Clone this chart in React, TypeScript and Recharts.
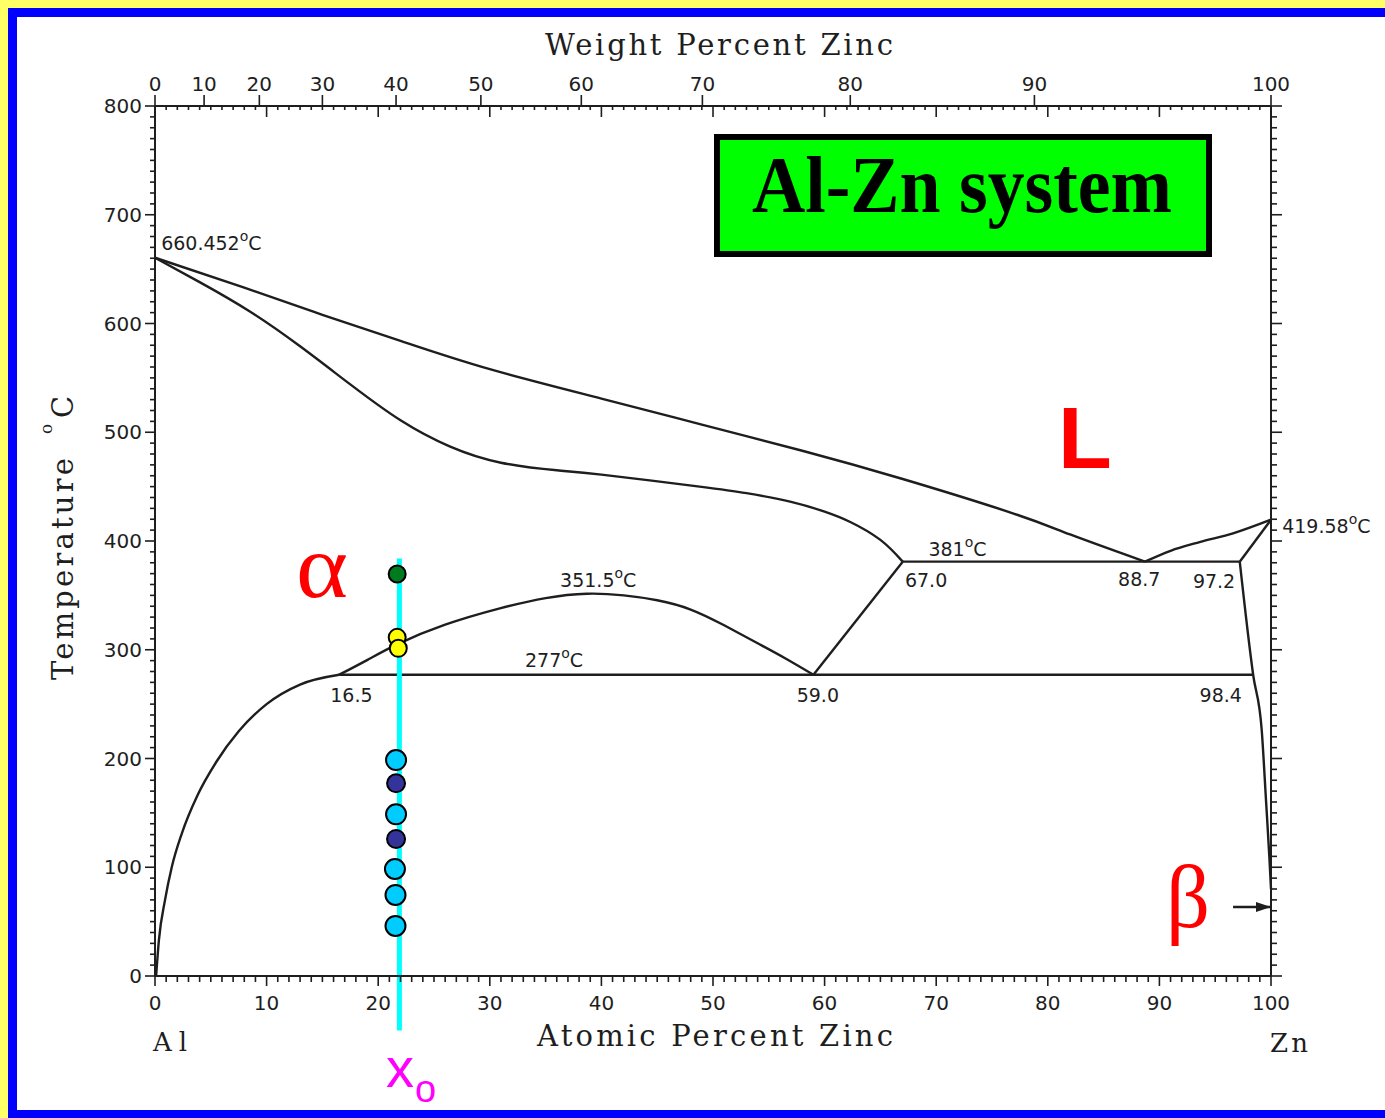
import React from 'react'
import {
  ComposedChart,
  Line,
  Scatter,
  XAxis,
  YAxis,
  ReferenceLine,
  ReferenceDot,
} from 'recharts'

type Pt = { x: number; t: number }

// x = atomic percent Zn, t = temperature in °C
const liquidusAl: Pt[] = [
  { x: 0, t: 660.45 }, { x: 8, t: 633 }, { x: 15, t: 608 }, { x: 22, t: 584 },
  { x: 30, t: 558 }, { x: 40, t: 531 }, { x: 49, t: 507 }, { x: 58, t: 483 },
  { x: 67, t: 457 }, { x: 77, t: 425 }, { x: 82, t: 406 }, { x: 88.7, t: 381 },
]
const solidusAl: Pt[] = [
  { x: 0, t: 660.45 }, { x: 4, t: 638 }, { x: 8.5, t: 611 }, { x: 13, t: 579 },
  { x: 17.5, t: 544 }, { x: 22, t: 511 }, { x: 26.4, t: 487 }, { x: 31, t: 472 },
  { x: 36, t: 465 }, { x: 40, t: 461 }, { x: 48.8, t: 450 }, { x: 53, t: 444 },
  { x: 57, t: 436 }, { x: 60, t: 427 }, { x: 62.3, t: 417.5 }, { x: 65, t: 401 },
  { x: 67, t: 381 },
]
const solvusAl: Pt[] = [
  { x: 0.1, t: 0 }, { x: 0.35, t: 33 }, { x: 0.9, t: 70 }, { x: 1.5, t: 100 },
  { x: 2.4, t: 131 }, { x: 3.8, t: 166 }, { x: 5.5, t: 197 }, { x: 7.5, t: 225 },
  { x: 10, t: 250 }, { x: 13, t: 268 }, { x: 16.5, t: 277 },
]
const gapDome: Pt[] = [
  { x: 16.5, t: 277 }, { x: 19, t: 290.5 }, { x: 21.7, t: 305 }, { x: 26, t: 323 },
  { x: 30.9, t: 338 }, { x: 35, t: 347.5 }, { x: 38.7, t: 351.5 }, { x: 42, t: 350 },
  { x: 45, t: 345.5 }, { x: 48, t: 337 }, { x: 51, t: 322.5 }, { x: 54, t: 306 },
  { x: 56.5, t: 292 }, { x: 59, t: 277 },
]
const eutectoidLeg: Pt[] = [{ x: 59, t: 277 }, { x: 67, t: 381 }]
const isotherm277: Pt[] = [{ x: 16.5, t: 277 }, { x: 98.4, t: 277 }]
const isotherm381: Pt[] = [{ x: 67, t: 381 }, { x: 97.2, t: 381 }]
const liquidusZn: Pt[] = [
  { x: 88.7, t: 381 }, { x: 91, t: 391 }, { x: 93.6, t: 399 }, { x: 96.6, t: 407 },
  { x: 100, t: 419.58 },
]
const solidusZn: Pt[] = [{ x: 97.2, t: 381 }, { x: 100, t: 419.58 }]
const solvusZn: Pt[] = [
  { x: 97.2, t: 381 }, { x: 98.4, t: 277 }, { x: 99.17, t: 226 }, { x: 99.55, t: 162 },
  { x: 99.85, t: 110 }, { x: 100, t: 80 },
]
const betaArrow: Pt[] = [{ x: 96.6, t: 63.4 }, { x: 100, t: 63.4 }]
const frameCorners: Pt[] = [{ x: 0, t: 0 }, { x: 100, t: 800 }]

// alloy x0 and the sample temperatures marked on it
const alloyX = 21.9
const alloyTop = 384
const alloyBottom = -50
const greenPts: Pt[] = [{ x: 21.7, t: 369.7 }]
const yellowPts: Pt[] = [{ x: 21.7, t: 311.4 }, { x: 21.8, t: 301.3 }]
const lightBluePts: Pt[] = [
  { x: 21.6, t: 198.6 }, { x: 21.6, t: 148.7 }, { x: 21.5, t: 98.4 },
  { x: 21.55, t: 74.5 }, { x: 21.55, t: 46 },
]
const darkBluePts: Pt[] = [{ x: 21.6, t: 177.2 }, { x: 21.6, t: 126 }]

// labels on the diagram (anchored at the left end of the text baseline)
const notes = [
  { text: '660.452', deg: true, x: 0.55, t: 667.6 },
  { text: '351.5', deg: true, x: 36.3, t: 357.7 },
  { text: '277', deg: true, x: 33.15, t: 284 },
  { text: '381', deg: true, x: 69.3, t: 386 },
  { text: '419.58', deg: true, x: 101, t: 407.4 },
  { text: '67.0', deg: false, x: 67.2, t: 357.7 },
  { text: '88.7', deg: false, x: 86.3, t: 358.6 },
  { text: '97.2', deg: false, x: 93.0, t: 356.8 },
  { text: '16.5', deg: false, x: 15.7, t: 252 },
  { text: '59.0', deg: false, x: 57.5, t: 252 },
  { text: '98.4', deg: false, x: 93.6, t: 252 },
]

// weight-percent scale on top, placed at the matching atomic percent
const weightTickPos = [0, 4.4, 9.35, 15.0, 21.6, 29.2, 38.2, 49.05, 62.3, 78.8, 100]
const weightTickLabels = ['0', '10', '20', '30', '40', '50', '60', '70', '80', '90', '100']

const atomicTicks = Array.from({ length: 101 }, (_, i) => i)
const tempTicks = Array.from({ length: 81 }, (_, i) => i * 10)
const topTicks = [...atomicTicks, ...weightTickPos.filter((v) => !Number.isInteger(v))]

const ink = '#1e1e1e'
const tickFont = { fontFamily: '"DejaVu Sans", sans-serif', fontSize: 20, fill: ink }
const noteFont = { fontFamily: '"DejaVu Sans", sans-serif', fontSize: 19, fill: ink }
const titleFont = { fontFamily: '"DejaVu Serif", serif', fontSize: 29, fill: ink }

function BottomTick(props: any) {
  const { x, y, payload } = props
  const v = payload.value
  const major = v % 10 === 0
  return (
    <g>
      <line x1={x} y1={y} x2={x} y2={y + (major ? 10 : 6)} stroke={ink} strokeWidth={1.6} />
      {major && (
        <text x={x} y={y + 34} textAnchor="middle" {...tickFont}>
          {v}
        </text>
      )}
    </g>
  )
}

function TopTick(props: any) {
  const { x, y, payload } = props
  const v = payload.value
  const wi = weightTickPos.indexOf(v)
  return (
    <g>
      {Number.isInteger(v) && (
        <line x1={x} y1={y} x2={x} y2={y + (v % 10 === 0 ? 11 : 4)} stroke={ink} strokeWidth={1.6} />
      )}
      {wi >= 0 && (
        <g>
          <line x1={x} y1={y} x2={x} y2={y - 11} stroke={ink} strokeWidth={1.6} />
          <text x={x} y={y - 15} textAnchor="middle" {...tickFont}>
            {weightTickLabels[wi]}
          </text>
        </g>
      )}
    </g>
  )
}

function LeftTick(props: any) {
  const { x, y, payload } = props
  const v = payload.value
  const major = v % 100 === 0
  return (
    <g>
      <line x1={x - (major ? 10 : 5)} y1={y} x2={x} y2={y} stroke={ink} strokeWidth={1.6} />
      {major && (
        <text x={x - 13} y={y + 7} textAnchor="end" {...tickFont}>
          {v}
        </text>
      )}
    </g>
  )
}

function RightTick(props: any) {
  const { x, y, payload } = props
  const major = payload.value % 100 === 0
  return <line x1={x} y1={y} x2={x + (major ? 11 : 6)} y2={y} stroke={ink} strokeWidth={1.6} />
}

function dotShape(fill: string, r: number) {
  return (p: any) => <circle cx={p.cx} cy={p.cy} r={r} fill={fill} stroke="#000" strokeWidth={2} />
}

function arrowDot(p: any) {
  if (p.index !== 1) return <g key={`a${p.index}`} />
  const { cx, cy } = p
  return (
    <polygon
      key="head"
      points={`${cx},${cy} ${cx - 15},${cy - 5} ${cx - 15},${cy + 5}`}
      fill={ink}
    />
  )
}

const curves: { data: Pt[]; type: 'monotone' | 'natural' | 'linear' }[] = [
  { data: liquidusAl, type: 'natural' },
  { data: solidusAl, type: 'natural' },
  { data: solvusAl, type: 'monotone' },
  { data: gapDome, type: 'natural' },
  { data: eutectoidLeg, type: 'linear' },
  { data: isotherm277, type: 'linear' },
  { data: isotherm381, type: 'linear' },
  { data: liquidusZn, type: 'monotone' },
  { data: solidusZn, type: 'linear' },
  { data: solvusZn, type: 'monotone' },
]

export default function App() {
  return (
    <div
      style={{
        position: 'fixed',
        left: 0,
        top: 0,
        width: 1385,
        height: 1118,
        background: '#ffff66',
        overflow: 'hidden',
      }}
    >
      <div
        style={{
          position: 'absolute',
          left: 8,
          top: 8,
          width: 1400,
          height: 1093,
          border: '9px solid #0000ff',
          background: '#fff',
        }}
      />
      <div style={{ position: 'absolute', left: 0, top: 0 }}>
        <ComposedChart
          width={1385}
          height={1118}
          margin={{ top: 76, right: 94, bottom: 112, left: 95 }}
        >
          <XAxis
            xAxisId="at"
            dataKey="x"
            type="number"
            domain={[0, 100]}
            ticks={atomicTicks}
            interval={0}
            tickSize={0}
            tickMargin={0}
            height={30}
            axisLine={{ stroke: ink, strokeWidth: 2 }}
            tick={BottomTick}
          />
          <XAxis
            xAxisId="wt"
            dataKey="x"
            orientation="top"
            type="number"
            domain={[0, 100]}
            ticks={topTicks}
            interval={0}
            tickSize={0}
            tickMargin={0}
            height={30}
            axisLine={{ stroke: ink, strokeWidth: 2 }}
            tick={TopTick}
          />
          <YAxis
            yAxisId="l"
            dataKey="t"
            type="number"
            domain={[0, 800]}
            ticks={tempTicks}
            interval={0}
            tickSize={0}
            tickMargin={0}
            width={60}
            axisLine={{ stroke: ink, strokeWidth: 2 }}
            tick={LeftTick}
          />
          <YAxis
            yAxisId="r"
            dataKey="t"
            orientation="right"
            type="number"
            domain={[0, 800]}
            ticks={tempTicks}
            interval={0}
            tickSize={0}
            tickMargin={0}
            width={20}
            axisLine={{ stroke: ink, strokeWidth: 2 }}
            tick={RightTick}
          />

          {/* invisible series so the top and right axes get a scale */}
          <Line
            xAxisId="wt"
            yAxisId="r"
            data={frameCorners}
            dataKey="t"
            stroke="none"
            dot={false}
            activeDot={false}
            isAnimationActive={false}
          />

          {curves.map((c, i) => (
            <Line
              key={`curve${i}`}
              xAxisId="at"
              yAxisId="l"
              data={c.data}
              dataKey="t"
              type={c.type}
              stroke={ink}
              strokeWidth={2.4}
              dot={false}
              activeDot={false}
              isAnimationActive={false}
            />
          ))}
          <Line
            xAxisId="at"
            yAxisId="l"
            data={betaArrow}
            dataKey="t"
            type="linear"
            stroke={ink}
            strokeWidth={2.4}
            dot={arrowDot}
            activeDot={false}
            isAnimationActive={false}
          />

          <ReferenceLine
            xAxisId="at"
            yAxisId="l"
            segment={[
              { x: alloyX, y: alloyTop },
              { x: alloyX, y: alloyBottom },
            ]}
            stroke="#00ffff"
            strokeWidth={5}
            ifOverflow="visible"
          />

          <Scatter xAxisId="at" yAxisId="l" data={greenPts} dataKey="t" shape={dotShape('#007a1e', 8.5)} isAnimationActive={false} />
          <Scatter xAxisId="at" yAxisId="l" data={yellowPts} dataKey="t" shape={dotShape('#ffff00', 8.5)} isAnimationActive={false} />
          <Scatter xAxisId="at" yAxisId="l" data={lightBluePts} dataKey="t" shape={dotShape('#00ccff', 10)} isAnimationActive={false} />
          <Scatter xAxisId="at" yAxisId="l" data={darkBluePts} dataKey="t" shape={dotShape('#333399', 9)} isAnimationActive={false} />

          {notes.map((n) => (
            <ReferenceDot
              key={n.text}
              xAxisId="at"
              yAxisId="l"
              x={n.x}
              y={n.t}
              r={0}
              ifOverflow="visible"
              shape={(p: any) => (
                <text x={p.cx} y={p.cy} {...noteFont}>
                  {n.text}
                  {n.deg && (
                    <>
                      <tspan dy={-9} fontSize={14}>o</tspan>
                      <tspan dy={9}>C</tspan>
                    </>
                  )}
                </text>
              )}
            />
          ))}
        </ComposedChart>
      </div>

      <svg
        width={1385}
        height={1118}
        style={{ position: 'absolute', left: 0, top: 0, pointerEvents: 'none' }}
      >
        <text x={545} y={55} textLength={348} {...titleFont}>
          Weight Percent Zinc
        </text>
        <text x={537} y={1046} textLength={356} {...titleFont}>
          Atomic Percent Zinc
        </text>
        <g transform="translate(73,680) rotate(-90)">
          <text x={0} y={0} textLength={222} {...titleFont}>
            Temperature
          </text>
          <text x={246} y={-21} {...titleFont} fontSize={17}>
            o
          </text>
          <text x={262} y={0} {...titleFont}>
            C
          </text>
        </g>
        <text x={153} y={1051} textLength={34} {...titleFont} fontSize={26}>
          Al
        </text>
        <text x={1270} y={1052} textLength={38} {...titleFont} fontSize={26}>
          Zn
        </text>

        <rect x={717} y={137} width={492} height={117} fill="#00ff00" stroke="#000" strokeWidth={6} />
        <text
          x={962}
          y={212}
          textAnchor="middle"
          textLength={420}
          lengthAdjust="spacingAndGlyphs"
          fontFamily='"Liberation Serif", serif'
          fontWeight="bold"
          fontSize={80}
          fill="#000"
        >
          Al-Zn system
        </text>

        <text x={1058} y={468} fontFamily='"Liberation Sans", sans-serif' fontWeight="bold" fontSize={88} fill="#ff0000">
          L
        </text>
        <text
          x={296}
          y={597}
          textLength={52}
          lengthAdjust="spacingAndGlyphs"
          fontFamily='"Liberation Serif", serif'
          fontSize={90}
          fill="#ff0000"
        >
          α
        </text>
        <text
          x={1166}
          y={927}
          textLength={44}
          lengthAdjust="spacingAndGlyphs"
          fontFamily='"Liberation Serif", serif'
          fontSize={88}
          fill="#ff0000"
        >
          β
        </text>
        <text x={386} y={1087} fontFamily='"Liberation Sans", sans-serif' fontSize={56} fill="#ff00ff">
          x
        </text>
        <text x={415} y={1102} fontFamily='"Liberation Sans", sans-serif' fontSize={38} fill="#ff00ff">
          o
        </text>
      </svg>
    </div>
  )
}
